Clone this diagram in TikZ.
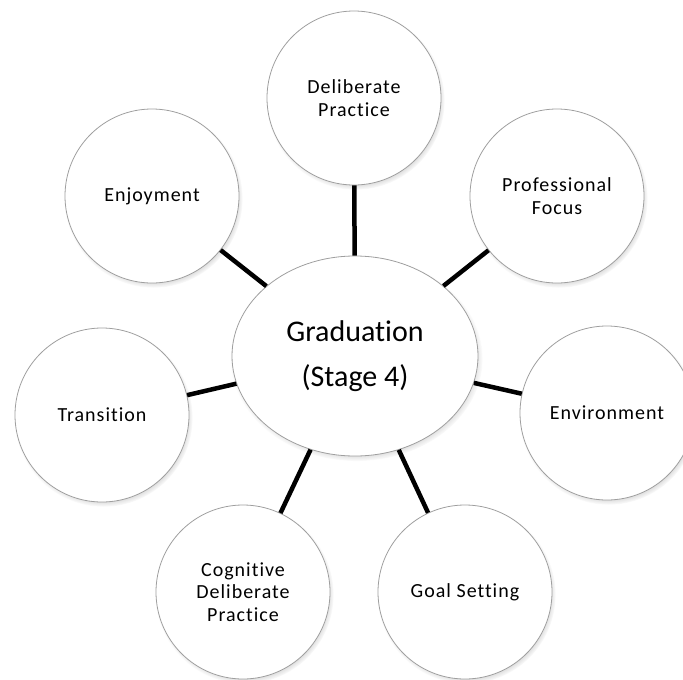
\documentclass[tikz,border=0pt]{standalone}
\usepackage{fontspec}
\setmainfont{Carlito}[Ligatures=NoCommon]
\newfontfamily\labelfont{Carlito}[LetterSpace=5,Ligatures=NoCommon]
\usetikzlibrary{shapes.geometric,shadows}
\tikzset{
  bubble/.style={circle, draw=gray!75, line width=0.8pt, fill=white,
    minimum size=174pt, inner sep=0pt, align=center,
    font=\labelfont\fontsize{20}{22.5}\selectfont,
    circular drop shadow={shadow xshift=1.5pt, shadow yshift=-2.5pt, shadow scale=1.025, opacity=0.6}},
  hub/.style={ellipse, draw=gray!75, line width=0.8pt, fill=white,
    minimum width=246pt, minimum height=200pt, inner sep=0pt, align=center,
    font=\fontsize{30}{45}\selectfont,
    circular drop shadow={shadow xshift=1.5pt, shadow yshift=-2.5pt, shadow scale=1.025, opacity=0.6}},
  link/.style={line width=4.5pt, black}
}
\begin{document}
\begin{tikzpicture}[x=1pt,y=-1pt]
\useasboundingbox (0,0) rectangle (683,680);
\node[hub] (c) at (355,356) {Graduation\\(Stage 4)};
\node[bubble] (dp) at (354,98) {Deliberate\\Practice};
\node[bubble] (en) at (152,196) {Enjoyment};
\node[bubble] (pf) at (557,196) {Professional\\Focus};
\node[bubble] (tr) at (102,415) {Transition};
\node[bubble] (ev) at (607,413) {Environment};
\node[bubble] (cg) at (243,592) {Cognitive\\Deliberate\\Practice};
\node[bubble] (gs) at (465,592) {Goal Setting};
\foreach \n in {dp,en,pf,tr,ev,cg,gs}{
  \draw[link] (c) -- (\n);
}
\end{tikzpicture}
\end{document}
